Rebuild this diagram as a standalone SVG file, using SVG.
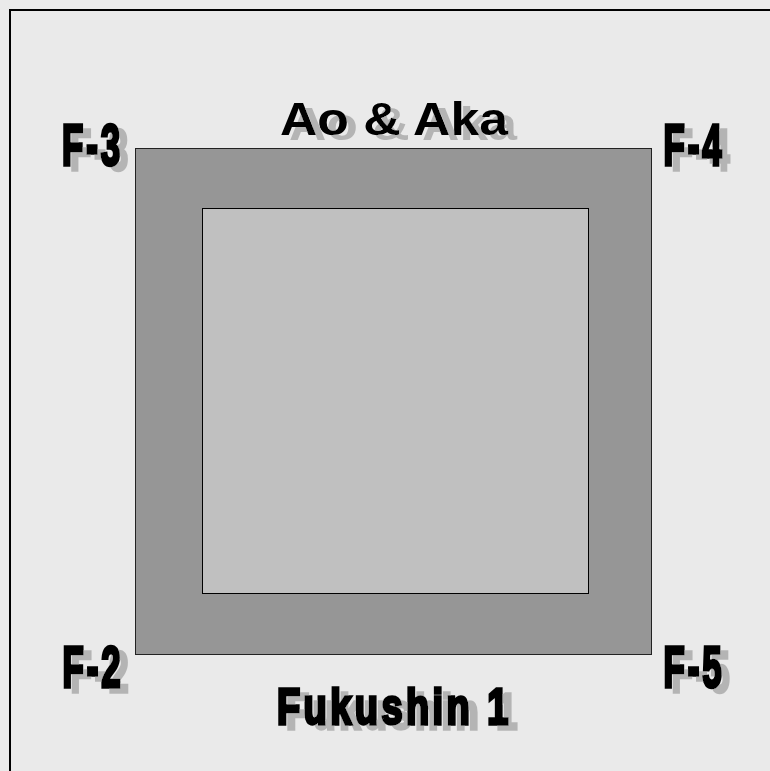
<svg xmlns="http://www.w3.org/2000/svg" width="770" height="771" viewBox="0 0 770 771">
<defs>
<filter id="shadowA" x="-10%" y="-10%" width="130%" height="140%">
<feFlood flood-color="#B4B4B4"/>
<feComposite in2="SourceAlpha" operator="in"/>
<feOffset dx="8" dy="5" result="s"/>
<feMerge><feMergeNode in="s"/><feMergeNode in="SourceGraphic"/></feMerge>
</filter>
<filter id="shadowB" x="-10%" y="-10%" width="130%" height="140%">
<feFlood flood-color="#B4B4B4"/>
<feComposite in2="SourceAlpha" operator="in"/>
<feOffset dx="9" dy="5" result="s"/>
<feMerge><feMergeNode in="s"/><feMergeNode in="SourceGraphic"/></feMerge>
</filter>
</defs>
<style>
.lbl{font-family:"Liberation Sans",Arial,sans-serif;font-weight:bold;fill:#000;}
.heavy{stroke:#000;stroke-width:3;vector-effect:non-scaling-stroke;}
.corner{font-size:58px;letter-spacing:5px;}
.title{font-size:46px;}
.bottom{font-size:50px;letter-spacing:4.5px;}
</style>
<rect x="0" y="0" width="770" height="771" fill="#EAEAEA"/>
<rect x="10" y="10" width="790" height="790" fill="#EAEAEA" stroke="#000" stroke-width="2"/>
<g id="outer-square">
<rect x="135.5" y="148.5" width="516" height="506" fill="#969696" stroke="#222" stroke-width="1"/>
</g>
<g id="inner-square">
<rect x="202.5" y="208.5" width="386" height="385" fill="#C0C0C0" stroke="#000" stroke-width="1"/>
</g>
<g id="connectors"></g>
<g id="label-top" filter="url(#shadowB)">
<text class="lbl title" x="280" y="134.5" textLength="228" lengthAdjust="spacingAndGlyphs">Ao &amp; Aka</text>
</g>
<g id="label-bottom" filter="url(#shadowB)">
<text class="lbl heavy bottom" transform="translate(277,723.5) scale(0.76,1)">Fukushin 1</text>
</g>
<g id="F-3" filter="url(#shadowA)">
<text class="lbl heavy corner" transform="translate(62,165) scale(0.6,1)">F-3</text>
</g>
<g id="F-4" filter="url(#shadowA)">
<text class="lbl heavy corner" transform="translate(663.5,165) scale(0.6,1)">F-4</text>
</g>
<g id="F-2" filter="url(#shadowA)">
<text class="lbl heavy corner" transform="translate(62.5,687) scale(0.6,1)">F-2</text>
</g>
<g id="F-5" filter="url(#shadowA)">
<text class="lbl heavy corner" transform="translate(663.5,687) scale(0.6,1)">F-5</text>
</g>
</svg>
